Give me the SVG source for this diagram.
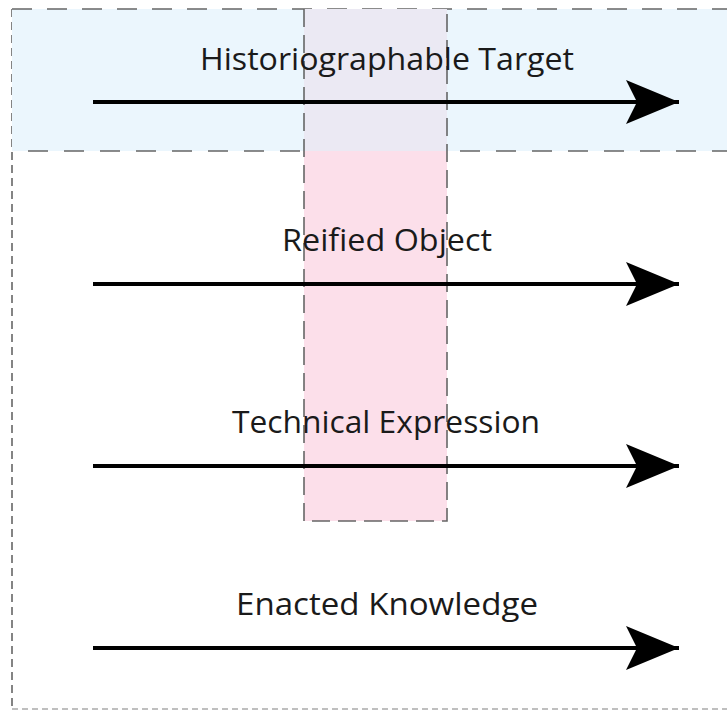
<svg xmlns="http://www.w3.org/2000/svg" width="727" height="710" viewBox="0 0 727 710">
<style>
.lbl{font-family:"Open Sans","Liberation Sans",sans-serif;font-size:31px;fill:#1a1a1a;text-anchor:middle}
.arrow{stroke:#000;stroke-width:4;fill:none}
.dash{fill:none;stroke:#666;stroke-width:1.6}
</style>
<defs>
<marker id="ah" markerUnits="userSpaceOnUse" markerWidth="60" markerHeight="50" refX="53" refY="22" orient="auto">
<path d="M0,0 L53,22 L0,44 L11,22 Z" fill="#000"/>
</marker>
</defs>
<rect width="727" height="710" fill="#fff"/>
<g id="outer-frame">
<path class="dash" d="M12,9 L12,709" stroke-dasharray="8,5"/>
<path d="M12,709 L727,709" fill="none" stroke="#aaa" stroke-width="1.4" stroke-dasharray="6,4"/>
</g>
<g id="historiographable-band">
<rect x="12" y="9" width="720" height="142" fill="#ebf6fd"/>
<path class="dash" d="M12,9 L727,9" stroke-dasharray="20,15"/>
<path class="dash" d="M28,151 L727,151" stroke-dasharray="20,16"/>
</g>
<g id="pink-column">
<rect x="304" y="9" width="143" height="512" fill="#fcdfea"/>
<rect x="304" y="9" width="143" height="142" fill="#ebe9f3"/>
<path class="dash" d="M304,9 L304,521 L447,521 L447,9" stroke-dasharray="18,8"/>
</g>
<g id="connectors">
<line class="arrow" x1="93" y1="102" x2="679" y2="102" marker-end="url(#ah)"/>
<line class="arrow" x1="93" y1="284" x2="679" y2="284" marker-end="url(#ah)"/>
<line class="arrow" x1="93" y1="466" x2="679" y2="466" marker-end="url(#ah)"/>
<line class="arrow" x1="93" y1="648" x2="679" y2="648" marker-end="url(#ah)"/>
</g>
<g id="label-historiographable">
<text class="lbl" x="387" y="70" textLength="374" lengthAdjust="spacingAndGlyphs">Historiographable Target</text>
</g>
<g id="label-reified">
<text class="lbl" x="387" y="251" textLength="210" lengthAdjust="spacingAndGlyphs">Reified Object</text>
</g>
<g id="label-technical">
<text class="lbl" x="386" y="433" textLength="308" lengthAdjust="spacingAndGlyphs">Technical Expression</text>
</g>
<g id="label-enacted">
<text class="lbl" x="387" y="615" textLength="302" lengthAdjust="spacingAndGlyphs">Enacted Knowledge</text>
</g>
</svg>
